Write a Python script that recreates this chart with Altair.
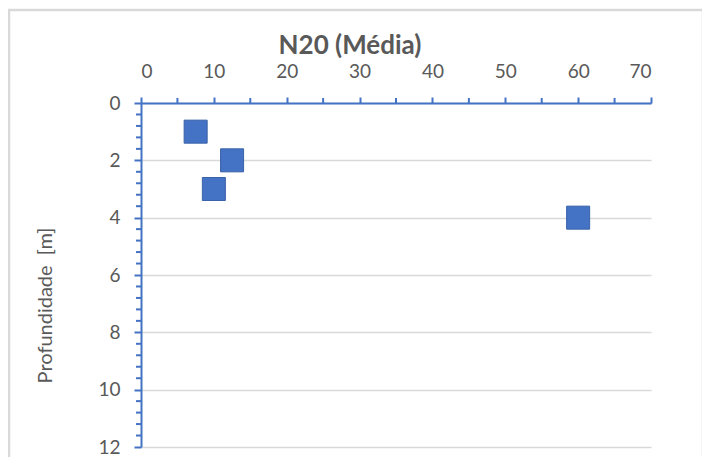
import altair as alt
import pandas as pd

# data
n20 = [7.5, 12.5, 10, 60]
depth = [1, 2, 3, 4]

x_minor = [5, 15, 25, 35, 45, 55, 65]
y_minor = [0.4, 0.8, 1.2, 1.6, 2.4, 2.8, 3.2, 3.6, 4.4, 4.8, 5.2, 5.6,
           6.4, 6.8, 7.2, 7.6, 8.4, 8.8, 9.2, 9.6, 10.4, 10.8, 11.2, 11.6]

BLUE = "#4472C4"
GREY = "#595959"
FONT = "Lato"

pts = pd.DataFrame({"n20": n20, "depth": depth})
xm = pd.DataFrame({"x": x_minor})
ym = pd.DataFrame({"y": y_minor})

xscale = alt.Scale(domain=[0, 70], nice=False, zero=False)
yscale = alt.Scale(domain=[0, 12], reverse=True, nice=False, zero=False)

points = alt.Chart(pts).mark_square(
    size=530, color=BLUE, stroke="#3A62A8", strokeWidth=1, opacity=1
).encode(
    x=alt.X("n20:Q", scale=xscale,
            axis=alt.Axis(orient="top", values=[0, 10, 20, 30, 40, 50, 60, 70],
                          title=None, grid=False, domainColor=BLUE, domainWidth=2,
                          tickColor=BLUE, tickWidth=2, tickSize=6,
                          labelPadding=16, labelFontSize=19, labelColor=GREY,
                          labelFont=FONT)),
    y=alt.Y("depth:Q", scale=yscale,
            axis=alt.Axis(values=[0, 2, 4, 6, 8, 10, 12],
                          title="Profundidade\u00a0\u00a0[m]", titleFont=FONT,
                          titleFontSize=20, titleFontWeight="normal",
                          titleColor=GREY, titleX=-86, titleY=202,
                          grid=True, gridColor="#D9D9D9", gridWidth=1.5,
                          domainColor=BLUE, domainWidth=2,
                          tickColor=BLUE, tickWidth=2, tickSize=7,
                          labelPadding=14, labelFontSize=19, labelColor=GREY,
                          labelFont=FONT)),
)

xticks = alt.Chart(xm).mark_rule(color=BLUE, strokeWidth=2).encode(
    x=alt.X("x:Q", scale=xscale),
    y=alt.value(-5), y2=alt.value(0),
)

yticks = alt.Chart(ym).mark_rule(color=BLUE, strokeWidth=2).encode(
    y=alt.Y("y:Q", scale=yscale),
    x=alt.value(-5), x2=alt.value(0),
)

# light grey chart-area border
frame = alt.Chart(pd.DataFrame({"f": [0]})).mark_rect(
    fillOpacity=0, stroke="#D9D9D9", strokeWidth=2.5
).encode(
    x=alt.value(-132), x2=alt.value(562), y=alt.value(-93), y2=alt.value(380)
)

chart = alt.layer(frame, xticks, yticks, points).properties(
    width=510, height=344,
    title=alt.TitleParams("N20 (Média)", font=FONT, fontSize=26, fontWeight="bold",
                          color=GREY, anchor="middle", dx=-46, offset=-50),
    autosize=alt.AutoSizeParams(type="none"),
    padding={"left": 133, "top": 95, "right": 51, "bottom": 10},
).configure_view(stroke=None)

chart.save("out.html", embed_options={"renderer": "svg", "actions": False})
